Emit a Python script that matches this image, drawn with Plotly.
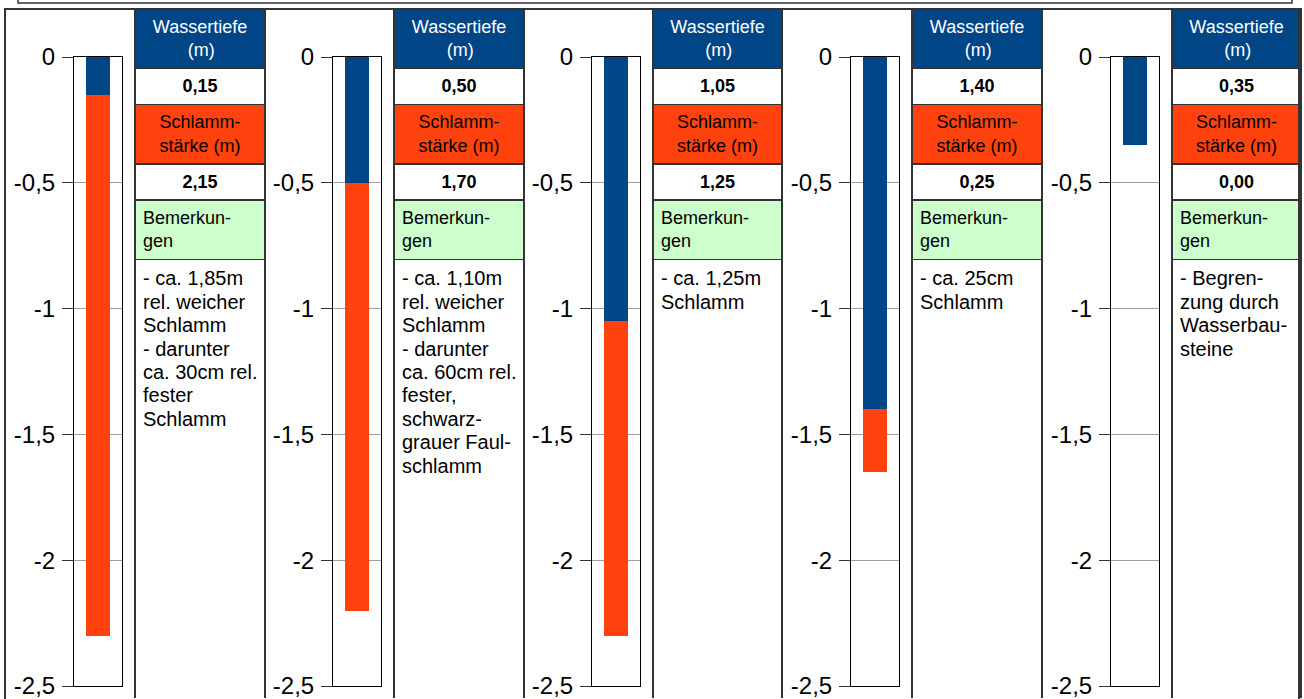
import plotly.graph_objects as go

# ---- data ----
water_depth = [0.15, 0.50, 1.05, 1.40, 0.35]
mud_thickness = [2.15, 1.70, 1.25, 0.25, 0.00]
remarks = [
    "- ca. 1,85m<br>rel. weicher<br>Schlamm<br>- darunter<br>ca. 30cm rel.<br>fester<br>Schlamm",
    "- ca. 1,10m<br>rel. weicher<br>Schlamm<br>- darunter<br>ca. 60cm rel.<br>fester,<br>schwarz-<br>grauer Faul-<br>schlamm",
    "- ca. 1,25m<br>Schlamm",
    "- ca. 25cm<br>Schlamm",
    "- Begren-<br>zung durch<br>Wasserbau-<br>steine",
]
tick_vals = [0, -0.5, -1, -1.5, -2, -2.5]
tick_text = ["0", "-0,5", "-1", "-1,5", "-2", "-2,5"]
# second line padded with no-break spaces so it sits centred under the first
header_water = "Wassertiefe<br>" + "\u00a0" * 7 + "(m)"
header_mud = "Schlamm-<br>stärke (m)"
header_rem = "Bemerkun-<br>gen"

BLUE = "#004586"
ORANGE = "#ff420e"
GREEN = "#ccffcc"
W, H = 1304, 699
FONT = "Liberation Sans, Arial, sans-serif"
TFS = 18  # table font size (sets the line pitch)
REMARK_FS = 20  # glyph size of the remark lines


def fmt(v):
    return f"{v:.2f}".replace(".", ",")


def big(text, size):
    return "<br>".join(f"<span style='font-size:{size}px'>{ln}</span>" for ln in text.split("<br>"))


def px(x):
    return x / W


def py(y):
    return 1 - y / H


fig = go.Figure()
layout = {}
plot_left = [74, 333, 592, 851, 1111]
table_left = [135, 394, 653, 912, 1172]
SPLIT_Y = 200
LINE = dict(color="#333", width=1.5)

for i in range(5):
    sx = "" if i == 0 else str(i + 1)
    fig.add_trace(go.Bar(x=[0], y=[-water_depth[i]], width=0.5, marker=dict(color=BLUE, line=dict(width=0)),
                         xaxis="x" + sx, yaxis="y" + sx, showlegend=False, hoverinfo="skip"))
    fig.add_trace(go.Bar(x=[0], y=[-mud_thickness[i]], width=0.5, marker=dict(color=ORANGE, line=dict(width=0)),
                         xaxis="x" + sx, yaxis="y" + sx, showlegend=False, hoverinfo="skip"))
    layout["xaxis" + sx] = dict(domain=[px(plot_left[i]), px(plot_left[i] + 48)], range=[-0.5, 0.5],
                                showticklabels=False, ticks="", showgrid=False, zeroline=False,
                                showline=True, mirror=True, linecolor="#000", linewidth=1,
                                anchor="y" + sx, fixedrange=True, automargin=False)
    layout["yaxis" + sx] = dict(domain=[1 - 686 / H, 1 - 57 / H], range=[-2.5, 0],
                                tickvals=tick_vals, ticktext=tick_text, ticks="outside", ticklen=11,
                                tickcolor="#333", tickwidth=1, showgrid=True, gridcolor="#a0a0a0",
                                gridwidth=1, zeroline=False, showline=True, mirror=True,
                                linecolor="#000", linewidth=1, anchor="x" + sx,
                                tickfont=dict(size=24, color="#000", family=FONT),
                                ticklabelstandoff=2, ticklabeloverflow="allow",
                                fixedrange=True, automargin=False)

    xdom = [px(table_left[i]), px(table_left[i] + 130)]
    # upper table: depths
    fig.add_trace(go.Table(
        domain=dict(x=xdom, y=[py(300), py(9)]),
        columnwidth=[1],
        header=dict(values=[header_water], fill_color=BLUE, align="center", height=59,
                    font=dict(color="white", size=TFS, family=FONT), line=LINE),
        cells=dict(values=[["<b>" + fmt(water_depth[i]) + "</b>", header_mud,
                            "<b>" + fmt(mud_thickness[i]) + "</b>"]],
                   fill_color=[["white", ORANGE, "white"]],
                   align="center",
                   font=dict(color="#000", size=TFS, family=FONT),
                   height=34, line=LINE),
    ))
    # lower table: remarks
    fig.add_trace(go.Table(
        domain=dict(x=xdom, y=[0, py(SPLIT_Y)]),
        columnwidth=[1],
        header=dict(values=[header_rem], fill_color=GREEN, align="left", height=59,
                    font=dict(color="#000", size=TFS, family=FONT), line=LINE),
        cells=dict(values=[[big(remarks[i], REMARK_FS)]], fill_color="white", align="left",
                   font=dict(color="#000", size=TFS, family=FONT),
                   height=439, line=LINE),
    ))

fig.update_layout(
    **layout,
    template="none",
    width=W, height=H, margin=dict(l=0, r=0, t=0, b=0, autoexpand=False),
    paper_bgcolor="white", plot_bgcolor="white", barmode="relative", bargap=0,
    showlegend=False, font=dict(family=FONT),
    shapes=[
        dict(type="rect", xref="paper", yref="paper", x0=px(5), x1=px(1299), y0=-0.2, y1=py(9),
             line=dict(color="#333", width=2), layer="above"),
        dict(type="rect", xref="paper", yref="paper", x0=px(18), x1=px(1292), y0=py(3), y1=1.2,
             line=dict(color="#333", width=1.5), layer="above"),
    ],
)

fig.write_html("out.html",
               config={"displayModeBar": False},
               post_script="document.body.style.margin='0px';"
                           "document.documentElement.style.overflow='hidden';")
